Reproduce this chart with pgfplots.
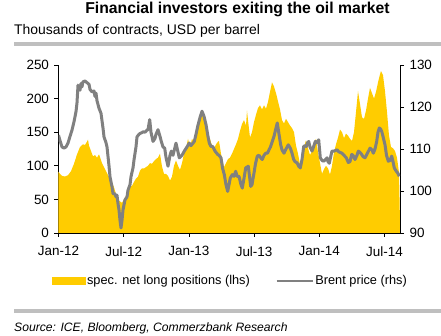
\documentclass[border=0pt]{standalone}
\usepackage{pgfplots}
\pgfplotsset{compat=1.18}
\usepackage{fontspec}
\setmainfont{Liberation Sans}
\definecolor{cbyellow}{HTML}{FFCC00}
\definecolor{cbgray}{HTML}{808080}
\definecolor{rulegray}{HTML}{BFBFBF}
\pgfplotsset{
  arealeg/.style={legend image code/.code={\fill[cbyellow] (0bp,-3.5bp) rectangle (33bp,3.5bp);}},
  lineleg/.style={legend image code/.code={\draw[cbgray, line width=2.5bp] (0bp,0bp) -- (36bp,0bp);}},
}
\begin{document}
\begin{tikzpicture}
\path[use as bounding box] (0bp,0bp) rectangle (441bp,336bp);
% header
\node[anchor=base, inner sep=0pt, font=\bfseries\fontsize{15.8}{18}\selectfont] at (237.5bp,322.7bp) {Financial investors exiting the oil market};
\node[anchor=base west, inner sep=0pt, font=\fontsize{14.0}{16}\selectfont] at (14bp,301.3bp) {Thousands of contracts, USD per barrel};
\fill[rulegray] (14bp,290.2bp) rectangle (441bp,294.2bp);
\fill[rulegray] (14bp,23.4bp) rectangle (441bp,27.2bp);
\node[anchor=base west, inner sep=0pt, font=\itshape\fontsize{12.2}{14}\selectfont] at (14bp,5bp) {Source: ICE, Bloomberg, Commerzbank Research};

\pgfplotsset{
  cbaxis/.style={
    at={(58.5bp,103bp)}, anchor=south west,
    scale only axis, width=341.5bp, height=168bp,
    xmin=58.5, xmax=400,
    tick align=outside, major tick length=4bp,
    axis line style={black, line width=0.8bp, -},
    tick style={black, line width=0.8bp},
    tick label style={font=\fontsize{13.5}{16}\selectfont},
    /pgf/number format/assume math mode=true,
  }
}
\begin{axis}[cbaxis,
  axis x line*=bottom, axis y line*=left,
  ymin=0, ymax=250, ytick={0,50,...,250},
  xtick={58.5,123.7,188.9,254.1,319.3,384.5},
  xticklabels={Jan-12,Jul-12,Jan-13,Jul-13,Jan-14,Jul-14},
  xticklabel style={yshift=-6bp},
  yticklabel style={xshift=-2bp},
]
\addplot[fill=cbyellow, draw=none] coordinates {
(58.5,91) (60,88) (62,85) (65,84) (68,86) (71,92) (74,103) (77,117) (80,128) (83,132)
(85,131) (87,136) (88,139) (89,130) (91,122) (93,114) (95,116) (97,112) (99,117) (100,113)
(102,104) (104,98) (106,92) (108,86) (110,80) (112,75) (114,68) (116,58) (118,50) (120,47)
(122,45) (124,50) (126,55) (128,65) (130,70) (132,70) (134,76) (136,81) (138,84) (140,93)
(142,96) (144,96) (146,98) (148,100) (150,104) (152,103) (154,107) (156,110) (158,112) (160,118)
(162,99) (164,88) (166,88) (168,85) (170,78) (172,84) (174,100) (176,108) (178,100) (180,94)
(182,104) (184,118) (186,126) (188,140) (190,128) (192,140) (194,136) (196,146) (198,158) (200,172)
(202,183) (204,170) (206,152) (208,144) (210,140) (212,130) (214,126) (216,132) (218,136) (219,137)
(221,118) (223,105) (224,98) (226,104) (228,110) (230,112) (232,118) (234,125) (236,132) (238,140)
(240,152) (242,162) (244,168) (246,160) (247,182) (248,168) (250,142) (252,150) (254,165) (256,176)
(258,186) (260,190) (262,184) (264,190) (266,185) (268,195) (270,210) (272,224) (274,218) (276,208)
(278,196) (280,184) (282,168) (284,163) (286,170) (288,165) (290,160) (292,156) (294,150) (296,130)
(298,118) (300,102) (302,108) (304,128) (306,138) (308,126) (310,116) (312,122) (314,134) (316,140)
(318,120) (320,104) (322,88) (324,95) (326,100) (328,96) (330,87) (332,100) (334,120) (336,132)
(338,142) (340,154) (342,150) (344,141) (346,148) (348,145) (350,140) (352,137) (354,150) (356,180)
(358,211) (360,192) (362,172) (364,170) (366,182) (368,200) (370,216) (372,208) (374,200) (376,210)
(378,224) (380,236) (381,241) (383,235) (385,211) (387,180) (389,145) (391,128) (393,126) (395,122)
(397,112) (399,90) (400,15)
} \closedcycle;
\end{axis}

\begin{axis}[cbaxis,
  axis x line=none, axis y line*=right,
  ymin=90, ymax=130, ytick={90,100,...,130},
  yticklabel style={xshift=2bp},
  legend columns=2,
  legend style={at={(-0.019,-0.2857)}, anchor=west, draw=none, fill=none,
    inner sep=0pt, font=\fontsize{12.8}{15}\selectfont,
    /tikz/every even column/.append style={column sep=24bp},
    nodes={inner sep=1.5bp}},
]
\addlegendimage{arealeg}
\addlegendentry{spec. net long positions (lhs)}
\addplot[cbgray, line width=3bp, line join=round, lineleg] coordinates {
(58.5,113.3) (60,112) (62,110.5) (64,110.2) (66,110.5) (68,111.4) (70,113) (72,114.5) (74,116.5) (76,118.9)
(77,121) (78,125.2) (79,124.5) (80,124) (81,125.6) (82,124.8) (83,126) (85,126.2) (87,125.8) (89,125.4)
(90,124.2) (92,123.6) (94,123.8) (95,122.5) (96,123.3) (97,121.5) (99,119.7) (101,118.5) (103,115) (104,112.9)
(106,111.5) (107,110.5) (109,106) (110,103.4) (112,101) (113,99.4) (115,99.3) (116,98.6) (117,99) (118,97)
(119,95.5) (120,93) (121,91.2) (122,93) (123,95.5) (125,97.9) (127,98.6) (128,100.2) (130,101.5) (131,103.4)
(133,105.5) (134,107.4) (136,110.5) (137,112.9) (139,113.5) (140,113.7) (142,113.9) (143,114.1) (145,114) (147,114.5)
(148,114.6) (149.7,117) (151,114) (153,111.8) (155,112.5) (156,113.5) (158,114.6) (160,113) (161.3,111.8) (163,110.5)
(164.7,110.2) (166,108) (168,105.9) (170,108.5) (171.3,109.5) (173,108.5) (176,111.4) (179.3,107.9) (182,108.5) (184.3,109.5)
(187,110.5) (189.3,111.4) (191,110.8) (194.3,111.8) (196,113.5) (197.7,115.4) (200,117.5) (202,119) (204,117.8) (206,115.8)
(208,113) (209.3,111.4) (211,110.6) (212.7,110.6) (215,109.5) (217.7,108.7) (219,108.5) (221,107.9) (222.5,105.5) (224.3,103.9)
(226,101.5) (227.7,99.9) (230.3,103.1) (232.3,103.9) (234,103.5) (235.7,104.7) (237,103.5) (239,103.5) (241,101.5) (242.3,100.7)
(244,103) (245.7,105.5) (248.3,105.9) (249.5,103.5) (250.7,101.1) (252,101.5) (254,104.3) (255.5,106.5) (257.3,108.3) (259,108.5)
(260.7,107.9) (262.3,107.5) (264,108.5) (265.7,109) (267.5,109) (269,109.8) (270.5,110.5) (272.3,111.8) (274,113) (275.5,114.5)
(277.3,116.2) (279,113.5) (280.7,111) (282,109.8) (284,109) (286,110) (288.3,111) (290.3,110.2) (292,109) (293.7,107.5)
(295,107) (297,106.7) (299,105.8) (300.3,105.5) (302,107.5) (303.7,110.6) (305,110.8) (306.3,110.6) (307.5,111.5) (308.7,111.8)
(310,110.5) (312,109.5) (313.5,110.5) (315.3,111.8) (317,111.5) (318.7,112.2) (320.3,107.9) (322,107.3) (323.7,107.1) (325.5,107.5)
(327,107.9) (328,107) (329.3,106.6) (331,108.5) (332,109.5) (334,109.5) (337,109.8) (339,109.3) (342,109) (344,108.5)
(346.3,107.9) (348.3,106.8) (350,107) (351.7,108.7) (353,108.5) (355,107.5) (357,108.5) (358.3,109.5) (360,109.2) (361.7,108.7)
(363,108.2) (365,107.9) (367,108.8) (370,110.2) (372,109.8) (373.3,109) (375,110) (376.7,111.8) (378,114) (379.3,115)
(380.5,114.8) (381.7,114.2) (383,113) (385,111) (386.5,108.5) (388.3,107.1) (390,107.3) (391.7,108.3) (393,107) (394.3,105.5)
(396,104.8) (397.7,104.3) (399.3,103.5)
};
\addlegendentry{Brent price (rhs)}
\end{axis}
\end{tikzpicture}
\end{document}
